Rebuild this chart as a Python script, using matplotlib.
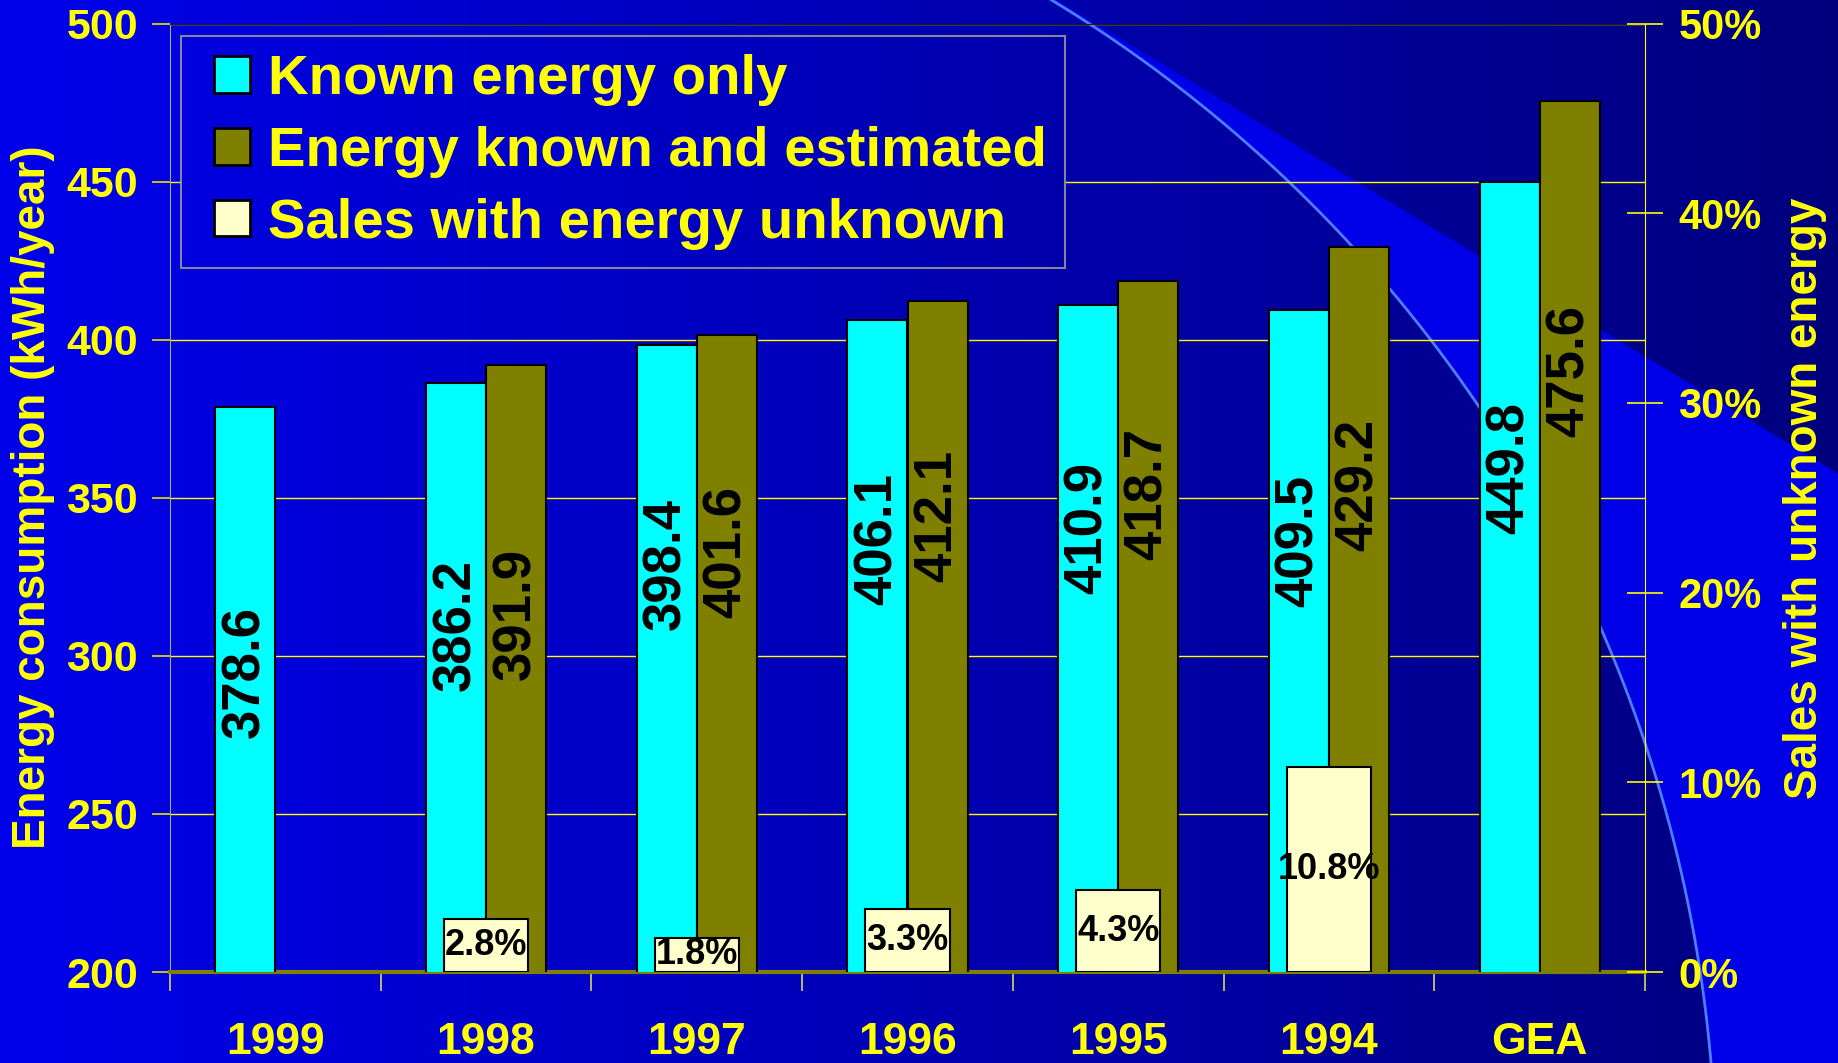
import matplotlib.pyplot as plt
import numpy as np
from matplotlib.legend_handler import HandlerPatch
from matplotlib.patches import Rectangle

plt.rcParams['font.family'] = ['Liberation Sans', 'DejaVu Sans']
plt.rcParams['font.weight'] = 'bold'

# data
categories = ['1999', '1998', '1997', '1996', '1995', '1994', 'GEA']
known_only = [378.6, 386.2, 398.4, 406.1, 410.9, 409.5, 449.8]
known_estimated = [None, 391.9, 401.6, 412.1, 418.7, 429.2, 475.6]
unknown_share = [None, 2.8, 1.8, 3.3, 4.3, 10.8, None]
series_names = ['Known energy only', 'Energy known and estimated',
                'Sales with energy unknown']
# where the value labels sit inside the bars (kWh/year), as in the original
known_label_at = [294.9, 309.7, 329.2, 337.1, 340.4, 336.3, 359.5]
estimated_label_at = [None, 313.1, 332.8, 344.1, 351.2, 354.0, 390.1]

YELLOW = '#FFFF00'
W, H = 1838, 1063
fig = plt.figure(figsize=(W / 100, H / 100), dpi=100)

# slide-like background: blue gradient, bright wedge, thin arc
bg = fig.add_axes([0, 0, 1, 1], zorder=-10)
xx, yy = np.meshgrid(np.arange(W), np.arange(H))
blue = 235 - 110 * xx / W
cx, cy, r = 336, 1180, 1380
outside = (xx - cx) ** 2 + (yy - cy) ** 2 > r ** 2
below = yy > 43 + 0.606 * (xx - 1128)
blue = np.where(outside & below, 232, blue)
img = np.zeros((H, W, 3))
img[..., 2] = blue / 255
bg.imshow(img, extent=(0, W, H, 0), aspect='auto')
t = np.linspace(-1.2, 0.0, 500)
bg.plot(cx + r * np.cos(t), cy + r * np.sin(t), color='#4d7dff', lw=2)
bg.set_xlim(0, W)
bg.set_ylim(H, 0)
bg.axis('off')

# main axes
ax = fig.add_axes([170 / W, 1 - 972 / H, (1645 - 170) / W, (972 - 23.5) / H], zorder=1)
ax.patch.set_visible(False)
x = np.arange(len(categories))
w = 0.285

for i, v in enumerate(known_only):
    ax.bar(x[i] - w / 2, v, w, color='#00FFFF', edgecolor='black', lw=1.5, zorder=3)
    ax.text(x[i] - w / 2, known_label_at[i], f'{v:.1f}', rotation=90, ha='center',
            va='center', fontsize=38, color='black', zorder=4)
for i, v in enumerate(known_estimated):
    if v is None:
        continue
    ax.bar(x[i] + w / 2, v, w, color='#808000', edgecolor='black', lw=1.5, zorder=3)
    ax.text(x[i] + w / 2, estimated_label_at[i], f'{v:.1f}', rotation=90, ha='center',
            va='center', fontsize=38, color='black', zorder=4)

ax.set_ylim(200, 500)
ax.set_xlim(-0.5, len(categories) - 0.5)
ax.set_yticks(range(200, 501, 50))
ax.yaxis.grid(True, color=YELLOW, lw=1)
ax.set_axisbelow(True)
ax.tick_params(axis='y', colors='#E6E600', labelcolor=YELLOW, length=13, width=1.2,
               labelsize=31, pad=10)
ax.set_xticks(np.arange(-0.5, len(categories)), [''] * (len(categories) + 1))
ax.set_xticks(x, categories, minor=True)
ax.tick_params(axis='x', which='major', colors='#D8D860', length=14, width=1.2)
ax.tick_params(axis='x', which='minor', length=0, labelcolor=YELLOW, labelsize=32, pad=36)

ax.spines['top'].set_color('#202000')
ax.spines['bottom'].set_color('#808000')
ax.spines['bottom'].set_linewidth(3)
ax.spines['left'].set_color('#A8A890')
ax.spines['right'].set_visible(False)

# secondary axis: share of sales with unknown energy
ax2 = ax.twinx()
ax2.set_zorder(3)
ax2.set_ylim(0, 50)
share_bars = None
for i, s in enumerate(unknown_share):
    if s is None:
        continue
    share_bars = ax2.bar(x[i], s, 0.4, color='#FFFFCC', edgecolor='black', lw=1.5, zorder=3)
    ax2.text(x[i], s / 2, f'{s}%', ha='center', va='center', fontsize=26, color='black',
             zorder=4)
ax2.set_yticks(range(0, 51, 10), [f'{v}%' for v in range(0, 51, 10)])
ax2.tick_params(axis='y', direction='inout', length=26, width=1.2, colors=YELLOW,
                labelsize=30, pad=11)
for side in ['top', 'bottom', 'left']:
    ax2.spines[side].set_visible(False)
ax2.spines['right'].set_color(YELLOW)

fig.text(33 / W, 1 - 497 / H, 'Energy consumption (kWh/year)', rotation=90, ha='center',
         va='center', fontsize=33, color=YELLOW)
fig.text(1805 / W, 1 - 498 / H, 'Sales with unknown energy', rotation=90, ha='center',
         va='center', fontsize=33, color=YELLOW)


def square_handle(legend, orig_handle, xdescent, ydescent, width, height, fontsize):
    return Rectangle((width - height - xdescent, -ydescent), height, height)


h1 = ax.containers[0].patches[0]
h2 = ax.containers[-1].patches[0]
h3 = share_bars.patches[0]
leg = ax2.legend([h1, h2, h3], series_names, loc='upper left',
                 bbox_to_anchor=(0.0073, 0.987), borderaxespad=0,
                 prop={'size': 40.5, 'weight': 'bold'},
                 facecolor='none', edgecolor='#A8A890', fancybox=False,
                 handlelength=0.9, handleheight=0.62, handletextpad=0.32,
                 labelspacing=0.35, borderpad=0.33, labelcolor=YELLOW,
                 handler_map={Rectangle: HandlerPatch(patch_func=square_handle)})
leg.get_frame().set_linewidth(1.5)
for hp in leg.legend_handles:
    hp.set_linewidth(2)

# the legend box hides the gridlines behind it but shows the slide background
fig.canvas.draw()
bb = leg.get_frame().get_window_extent()
cover = fig.add_axes([bb.x0 / W, bb.y0 / H, bb.width / W, bb.height / H], zorder=2)
cover.imshow(img, extent=(0, W, H, 0), aspect='auto')
cover.set_xlim(bb.x0, bb.x1)
cover.set_ylim(H - bb.y0, H - bb.y1)
cover.axis('off')

fig.savefig('out.png', dpi=100)
